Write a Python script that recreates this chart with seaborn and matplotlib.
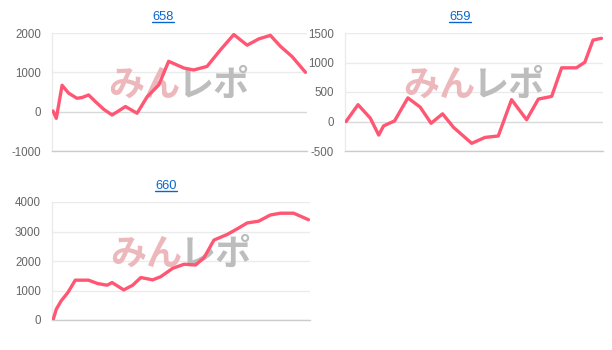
import matplotlib
matplotlib.use("Agg")
import matplotlib.pyplot as plt
import seaborn as sns
import pandas as pd
from matplotlib.lines import Line2D

# ---- data ----
titles = ["658", "659", "660"]

x658 = [0, 1.3, 3.6, 6.2, 9.5, 11.5, 14.1, 16.8, 20.1, 23.4, 28.7, 33.3, 37.3, 41.9,
        45.8, 51.8, 55.7, 61.0, 66.3, 71.6, 76.9, 81.5, 86.1, 90.1, 94.7, 100]
y658 = [17, -170, 670, 470, 340, 360, 425, 255, 60, -85, 130, -40, 380, 680,
        1280, 1110, 1060, 1150, 1570, 1960, 1690, 1850, 1940, 1660, 1400, 1000]

x659 = [0, 4.7, 9.5, 12.8, 14.7, 19.0, 24.2, 29.0, 33.3, 37.8, 42.1, 49.2, 54.4, 59.6,
        64.8, 70.7, 75.3, 80.5, 84.4, 90.2, 93.5, 96.7, 100]
y659 = [0, 285, 57, -230, -75, 10, 400, 245, -30, 130, -100, -370, -270, -245,
        370, 30, 380, 425, 910, 910, 1005, 1380, 1410]

x660 = [0, 1.3, 3.2, 5.8, 8.7, 13.9, 17.5, 21.2, 23.1, 27.7, 31.2, 34.4, 39.0, 42.2,
        46.8, 51.3, 55.8, 59.1, 63.0, 68.2, 72.1, 76.0, 80.5, 85.1, 89.0, 94.2, 100]
y660 = [0, 370, 650, 930, 1350, 1350, 1235, 1180, 1270, 1020, 1180, 1440, 1360, 1470,
        1750, 1890, 1865, 2110, 2710, 2900, 3090, 3290, 3350, 3560, 3620, 3620, 3400]

yticks658 = [-1000, 0, 1000, 2000]
yticks659 = [-500, 0, 500, 1000, 1500]
yticks660 = [0, 1000, 2000, 3000, 4000]

watermark_a = "みん"
watermark_b = "レポ"

# ---- style ----
sns.set_style("white")
plt.rcParams['font.family'] = ['Liberation Sans', 'Noto Sans CJK JP', 'DejaVu Sans']

W, H = 612, 350
fig = plt.figure(figsize=(W / 100, H / 100), dpi=100)

LINE = "#ff5773"
GRID = "#ebebeb"
TICKC = "#666666"
TITLEC = "#0a66cc"

panels = [
    (x658, y658, yticks658, titles[0], (52, 33, 307, 151), (163, 17)),
    (x659, y659, yticks659, titles[1], (345, 33, 603, 151), (460, 17)),
    (x660, y660, yticks660, titles[2], (52, 202, 310, 320), (166, 186)),
]

title_texts = []
for xs, ys, yt, title, (l, t, r, b), (tx, ty) in panels:
    ax = fig.add_axes([l / W, 1 - b / H, (r - l) / W, (b - t) / H])
    df = pd.DataFrame({"x": xs, "y": ys})
    sns.lineplot(data=df, x="x", y="y", ax=ax, color=LINE, linewidth=2.4,
                 sort=False, estimator=None, zorder=5)
    ax.set_ylim(yt[0], yt[-1])
    ax.set_xlim(-0.4, 100.6)
    ax.set_yticks(yt)
    ax.set_yticklabels([str(v) for v in yt])
    ax.set_xticks([])
    ax.set_xlabel("")
    ax.set_ylabel("")
    for v in yt:
        if v == 0 and yt[0] < 0:
            ax.axhline(v, color="#d9d9d9", lw=1, zorder=1)
        else:
            ax.axhline(v, color=GRID, lw=1, zorder=1)
    for s in ["top", "right"]:
        ax.spines[s].set_visible(False)
    ax.spines["left"].set_color(GRID)
    ax.spines["left"].set_linewidth(1)
    ax.spines["bottom"].set_color("#cccccc")
    ax.spines["bottom"].set_linewidth(1)
    ax.tick_params(axis="y", length=7, width=1, color=GRID, pad=1,
                   labelsize=8.3, labelcolor=TICKC)
    ax.patch.set_alpha(0)
    # watermark
    ax.text(0.505, 0.56, watermark_a, transform=ax.transAxes, ha="right", va="center",
            fontsize=26, fontweight="bold", color="#ecb8bc",
            family=["Noto Sans CJK JP", "DejaVu Sans"], zorder=2)
    ax.text(0.495, 0.56, watermark_b, transform=ax.transAxes, ha="left", va="center",
            fontsize=26, fontweight="bold", color="#bdbdbd",
            family=["Noto Sans CJK JP", "DejaVu Sans"], zorder=2)
    tt = fig.text(tx / W, 1 - ty / H, title, ha="center", va="center",
                  fontsize=9.3, color=TITLEC)
    title_texts.append(tt)

# underline the titles (link style)
fig.canvas.draw()
renderer = fig.canvas.get_renderer()
for tt in title_texts:
    bb = tt.get_window_extent(renderer)
    y = (bb.y0 + 1.5) / H
    fig.add_artist(Line2D([bb.x0 / W, bb.x1 / W], [y, y], color=TITLEC, lw=1))

fig.savefig("out.png", dpi=100)
